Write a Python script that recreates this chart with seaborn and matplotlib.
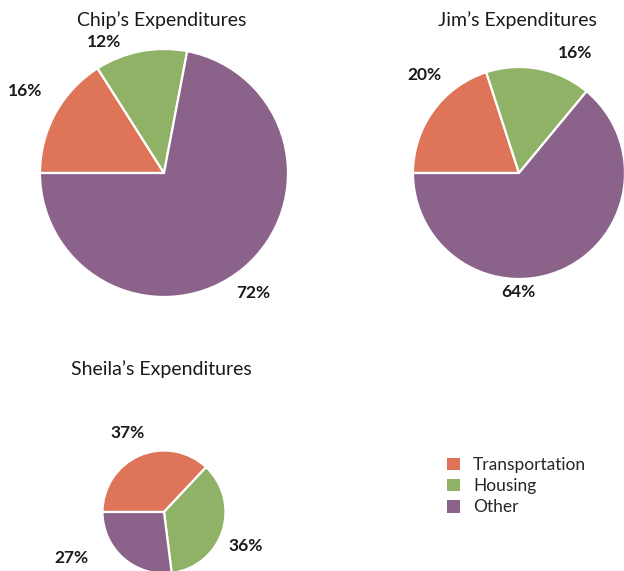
import matplotlib
matplotlib.use("Agg")
import matplotlib.pyplot as plt
from matplotlib.patches import Patch
import seaborn as sns

categories = ["Transportation", "Housing", "Other"]
people = ["Chip", "Jim", "Sheila"]
chip_values = [16, 12, 72]
jim_values = [20, 16, 64]
sheila_values = [37, 36, 27]
titles = ["Chip\u2019s Expenditures", "Jim\u2019s Expenditures", "Sheila\u2019s Expenditures"]

sns.set_theme(style="white")
plt.rcParams["font.family"] = ["Lato", "DejaVu Sans"]
palette = sns.color_palette(["#DE7558", "#8FB266", "#8B628A"])

W, H = 624, 571
fig = plt.figure(figsize=(W / 100, H / 100), dpi=100)
fig.patch.set_facecolor("white")

# (center x, center y, radius) in pixels for each pie
pie_geom = [(164, 173, 124), (519, 173, 106), (164, 512, 61.5)]
title_pos = [(162, 20), (517, 20), (161, 369)]
label_xy = [
    [(-1.12, 0.66), (-0.48, 1.06), (0.72, -0.97)],
    [(-0.89, 0.92), (0.53, 1.13), (-0.01, -1.12)],
    [(-0.59, 1.28), (1.33, -0.56), (-1.51, -0.75)],
]

all_values = [chip_values, jim_values, sheila_values]
for vals, (cx, cy, r), (tx, ty), lxy, title in zip(all_values, pie_geom, title_pos, label_xy, titles):
    ax = fig.add_axes([(cx - r) / W, (H - cy - r) / H, 2 * r / W, 2 * r / H])
    wedges, _ = ax.pie(vals, colors=palette, startangle=180, counterclock=False,
                       radius=1, wedgeprops=dict(edgecolor="white", linewidth=1.6))
    ax.set_xlim(-1, 1)
    ax.set_ylim(-1, 1)
    ax.set_aspect("equal")
    ax.axis("off")
    for v, (lx, ly) in zip(vals, lxy):
        ax.text(lx, ly, f"{v}%", ha="center", va="center", fontsize=12.5,
                fontweight="bold", color="#1a1a1a", clip_on=False)
    fig.text(tx / W, 1 - ty / H, title, ha="center", va="center", fontsize=14, color="#1a1a1a")

handles = [Patch(facecolor=c, edgecolor="none") for c in palette]
fig.legend(handles, categories, loc="upper left", bbox_to_anchor=(440 / W, 1 - 450 / H),
           frameon=False, fontsize=12.5, handlelength=0.75, handleheight=0.75,
           handletextpad=0.75, labelspacing=0.3, borderaxespad=0)

fig.savefig("out.png", dpi=100)
